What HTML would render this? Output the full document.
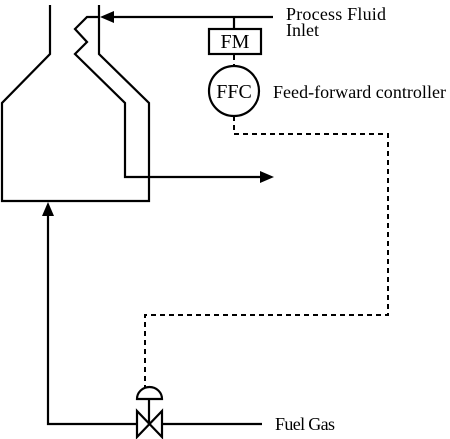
<!DOCTYPE html>
<html><head><style>html,body{margin:0;padding:0;background:#fff}svg{display:block}</style></head>
<body>
<svg width="450" height="439" viewBox="0 0 450 439" xmlns="http://www.w3.org/2000/svg" font-family="Liberation Serif, serif" font-size="18">
<g fill="none" stroke="#000" stroke-width="2.2">
<polyline points="50,5 50,54 2,103 2,201 149,201 149,103 99,54 99,5"/>
<polyline points="100,17 87,17 75,29 87,42 75,54 125,103 125,177 262,177"/>
<line x1="273" y1="17" x2="110" y2="17"/>
<line x1="234" y1="17" x2="234" y2="29"/>
<rect x="209" y="29" width="52" height="25"/>
<circle cx="234" cy="91" r="25"/>
<polyline points="137,424 48,424 48,212"/>
<line x1="162" y1="424" x2="262" y2="424"/>
<polygon points="137,411 137,437 162,411 162,437"/>
<line x1="149" y1="399" x2="149" y2="424"/>
<path d="M137,399 A12.5,12 0 0 1 162,399 Z"/>
</g>
<g fill="none" stroke="#000" stroke-width="2" stroke-dasharray="5,4">
<line x1="234" y1="55" x2="234" y2="66"/>
<polyline points="234,116 234,134 388,134 388,315 145,315 145,387"/>
</g>
<g fill="#000">
<polygon points="100,17 114,11 114,23"/>
<polygon points="274,177 260,171 260,183"/>
<polygon points="48,202 42,216 54,216"/>
</g>
<text x="235" y="48" font-size="20" text-anchor="middle">FM</text>
<text x="234" y="98" font-size="20" text-anchor="middle">FFC</text>
<text x="286" y="20" textLength="100">Process Fluid</text>
<text x="286" y="36">Inlet</text>
<text x="273" y="98" textLength="173">Feed-forward controller</text>
<text x="275" y="430" textLength="60">Fuel Gas</text>
</svg>
</body></html>
